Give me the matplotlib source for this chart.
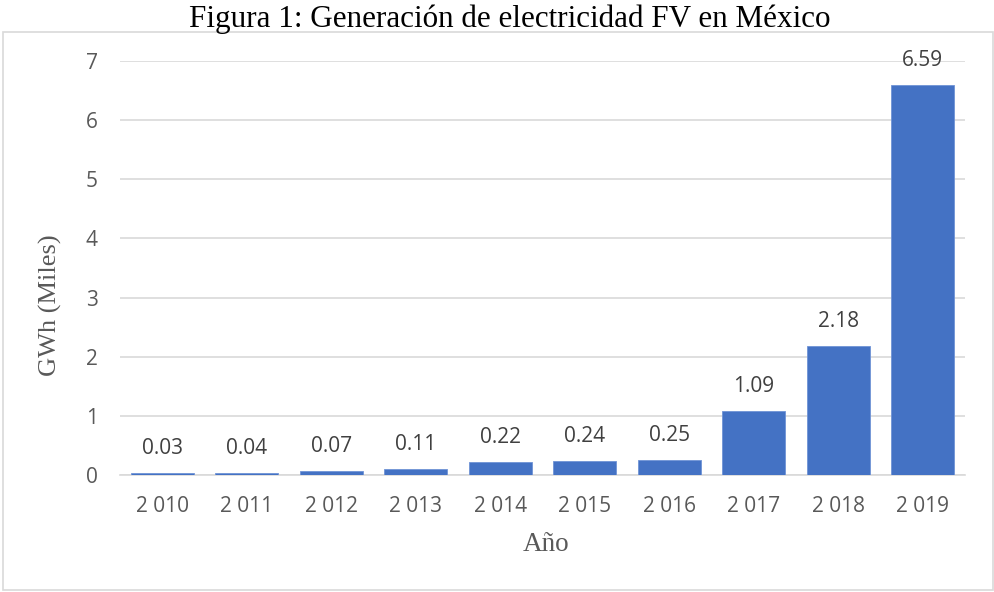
import matplotlib
matplotlib.use("Agg")
import matplotlib.pyplot as plt
from matplotlib.patches import Rectangle

# Data
years = ["2 010", "2 011", "2 012", "2 013", "2 014",
         "2 015", "2 016", "2 017", "2 018", "2 019"]
gwh_miles = [0.03, 0.04, 0.07, 0.11, 0.22, 0.24, 0.25, 1.09, 2.18, 6.59]
y_ticks = [0, 1, 2, 3, 4, 5, 6, 7]

BAR_COLOR = "#4472C4"
TEXT_GREY = "#595959"
GRID_GREY = "#d9d9d9"

fig = plt.figure(figsize=(9.95, 5.92), dpi=100)

# Outer frame around the chart (like an Excel chart area)
fig.patches.append(Rectangle((3 / 995, 2 / 592), 990 / 995, 558 / 592,
                             transform=fig.transFigure, fill=False,
                             edgecolor=GRID_GREY, linewidth=1.2))

fig.text(510 / 995, 1 - 27 / 592, "Figura 1: Generación de electricidad FV en México",
         ha="center", va="baseline", fontsize=22.4, family="Liberation Serif")

ax = fig.add_axes((0.1206, 0.1976, 0.8492, 0.6994))
x = range(len(years))
ax.bar(x, gwh_miles, width=0.75, color=BAR_COLOR, edgecolor="#6f93d6",
       linewidth=0.6, zorder=3)

# Value labels above bars
for xi, v in zip(x, gwh_miles):
    ax.annotate(f"{v:.2f}", (xi, v), xytext=(0, 13.5), textcoords="offset points",
                ha="center", va="baseline", fontsize=15, color="#404040",
                family="Open Sans", zorder=4)

ax.set_xlim(-0.5, len(years) - 0.5)
ax.set_ylim(0, 7)
ax.set_yticks(y_ticks)
ax.set_yticklabels([str(t) for t in y_ticks])
ax.set_xticks(list(x))
ax.set_xticklabels(years)

ax.grid(axis="y", color=GRID_GREY, linewidth=1.2, zorder=0)
for side in ["top", "right", "left"]:
    ax.spines[side].set_visible(False)
ax.spines["bottom"].set_color(GRID_GREY)
ax.spines["bottom"].set_linewidth(1.2)
ax.tick_params(axis="both", length=0, labelsize=15, colors=TEXT_GREY)
ax.tick_params(axis="y", pad=16)
ax.tick_params(axis="x", pad=15)
for lbl in ax.get_xticklabels() + ax.get_yticklabels():
    lbl.set_family("Open Sans")

ax.set_ylabel("GWh (Miles)", fontsize=19, color=TEXT_GREY,
              family="Liberation Serif", va="center")
ax.set_xlabel("Año", fontsize=19.5, color=TEXT_GREY,
              family="Liberation Serif", va="center")
ax.yaxis.set_label_coords(-0.0828, 0.41)
ax.xaxis.set_label_coords(0.504, -0.169)

plt.savefig("out.png", dpi=100)
plt.close()
